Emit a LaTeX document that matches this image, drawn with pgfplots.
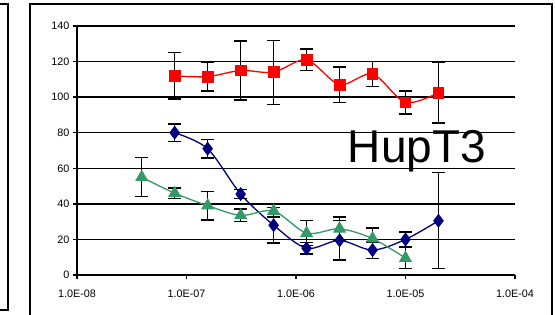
\documentclass[border=0pt]{standalone}
\usepackage{pgfplots}
\pgfplotsset{compat=1.18}
\usepackage{fontspec}
\setmainfont{Liberation Sans}
\definecolor{sgreen}{RGB}{51,153,102}
\definecolor{navyb}{RGB}{0,0,128}
\begin{document}
\begin{tikzpicture}
\path[use as bounding box] (0,0) rectangle (555pt,314pt);
\draw[line width=1.6pt] (-2pt,310pt) -- (8pt,310pt) -- (8pt,4pt) -- (-2pt,4pt);
\draw[line width=1.6pt] (30pt,-4pt) -- (30pt,310pt) -- (552pt,310pt) -- (552pt,-4pt);
\begin{axis}[at={(77pt,39pt)}, anchor=south west, scale only axis, width=438pt, height=249pt,
 xmode=log, xmin=1e-8, xmax=1e-4, ymin=0, ymax=140,
 axis x line*=bottom, axis y line*=left, axis line style={line width=1.4pt, -},
 ytick={0,20,...,140}, xtick={1e-8,1e-7,1e-6,1e-5,1e-4},
 xticklabels={1.0E-08,1.0E-07,1.0E-06,1.0E-05,1.0E-04},
 ymajorgrids, grid style={black, line width=1.4pt},
 tick align=outside, major tick length=4pt, tick style={black, line width=1.4pt},
 xminorticks=false,
 ticklabel style={font=\fontsize{10.8}{12}\selectfont},
 /pgf/number format/assume math mode=true,
 xticklabel style={yshift=-7pt},
 clip=false,
 every axis plot/.append style={error bars/y dir=both, error bars/y explicit,
   error bars/error bar style={black, line width=1.4pt, solid},
   error bars/error mark options={rotate=90, mark size=6.5pt, black, line width=1.4pt, solid}},
]
\addplot[red, line width=1.3pt, smooth, mark=square*, mark size=5.3pt, mark options={solid, fill=red, draw=red}]
 table[x=x, y=y, y error=e] {
x y e
7.8e-8 112 13
1.56e-7 111.5 8
3.125e-7 115 16.5
6.25e-7 114 18
1.25e-6 121 6
2.5e-6 107 10
5e-6 113 7
1e-5 97 6.5
2e-5 102.5 17
};
\addplot[navyb, line width=1.3pt, smooth, mark=diamond*, mark size=6pt, mark options={solid, fill=navyb, draw=navyb}]
 table[x=x, y=y, y error=e] {
x y e
7.8e-8 80 5
1.56e-7 71 5.3
3.125e-7 45.5 2.6
6.25e-7 28 10
1.25e-6 15 3.2
2.5e-6 19.5 11
5e-6 14 4.6
1e-5 20 4.2
2e-5 30.5 27
};
\addplot[sgreen, line width=1.3pt, smooth, mark=triangle*, mark size=6.3pt, mark options={solid, fill=sgreen, draw=sgreen}]
 table[x=x, y=y, y error=e] {
x y e
3.9e-8 55 11
7.8e-8 46 3
1.56e-7 39 8
3.125e-7 33.5 3.5
6.25e-7 36 3.5
1.25e-6 23.5 7
2.5e-6 26 6.5
5e-6 20.5 6
1e-5 9.5 6
};
\node[anchor=base, font=\fontsize{46}{46}\selectfont, inner sep=0pt] at (axis cs:1.27e-5,63) {HupT3};
\end{axis}
\end{tikzpicture}
\end{document}
